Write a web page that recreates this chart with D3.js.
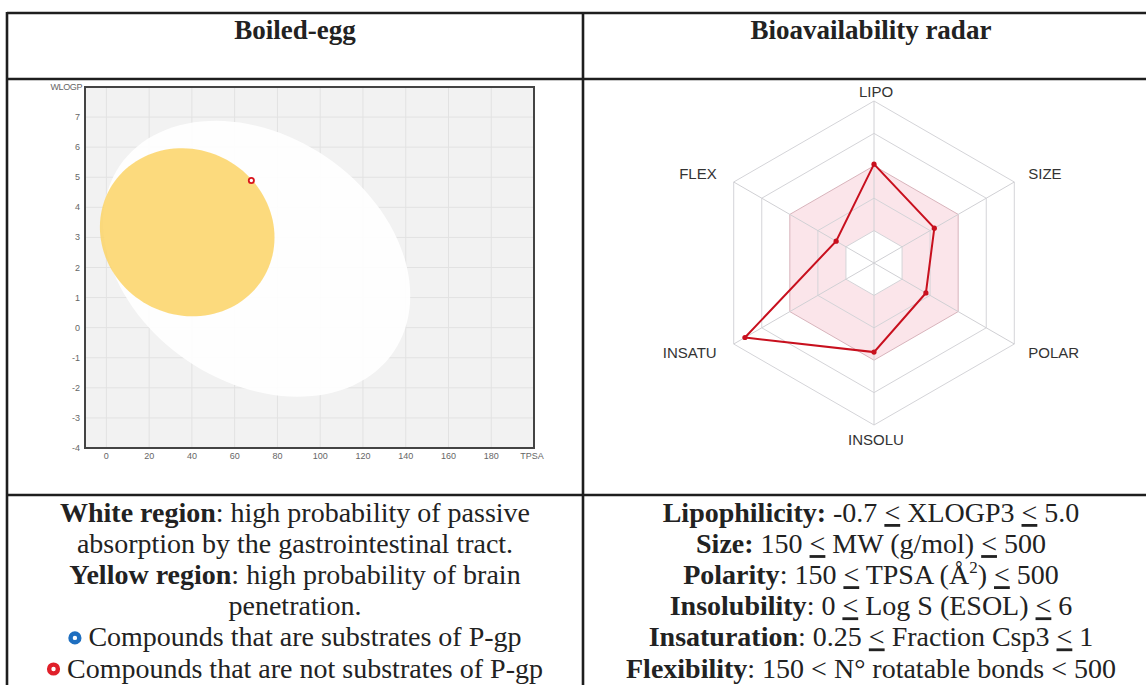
<!DOCTYPE html>
<html>
<head>
<meta charset="utf-8">
<script src="https://cdn.jsdelivr.net/npm/d3@7"></script>
<style>
  body { margin: 0; background: #fff; }
  svg { display: block; }
</style>
</head>
<body>
<div id="chart"></div>
<script>
// ---- data ----
// boiled-egg axes
const tpsaTicks = [0, 20, 40, 60, 80, 100, 120, 140, 160, 180]
const wlogpTicks = [-4, -3, -2, -1, 0, 1, 2, 3, 4, 5, 6, 7]
// ellipses in data units: centre + two conjugate semi-axis vectors (tpsa, wlogp)
const whiteCenter = [70.3, 2.29]
const whiteAxisU = [64.1, -3.09]
const whiteAxisV = [-32.4, -3.39]
const yolkCenter = [37.8, 3.17]
const yolkAxisU = [36.3, -1.43]
const yolkAxisV = [-18.7, -2.40]
// the molecule
const molTPSA = [67.8]
const molWLOGP = [4.89]
const molPgp = [false]

// bioavailability radar (normalised 0..1)
const radarAxes = ["LIPO", "SIZE", "POLAR", "INSOLU", "INSATU", "FLEX"]
const radarValues = [0.61, 0.43, 0.37, 0.55, 0.92, 0.27]
const radarRings = [0.2, 0.4, 0.6, 0.8, 1.0]
const optimalBand = [0.2, 0.6]

const width = 1146
const height = 685

const svg = d3.select("#chart")
  .append("svg")
  .attr("width", width)
  .attr("height", height)

// ---- table frame ----
const lineCol = "#1e1e1e"
const tbl = svg.append("g").attr("stroke", lineCol).attr("stroke-width", 2.6)
tbl.append("line").attr("x1", 7).attr("x2", width).attr("y1", 13).attr("y2", 13)
tbl.append("line").attr("x1", 7).attr("x2", width).attr("y1", 79).attr("y2", 79)
tbl.append("line").attr("x1", 7).attr("x2", width).attr("y1", 495).attr("y2", 495)
tbl.append("line").attr("x1", 7).attr("x2", 7).attr("y1", 12).attr("y2", height)
tbl.append("line").attr("x1", 583).attr("x2", 583).attr("y1", 12).attr("y2", height)

const leftC = 295
const rightC = 871
const serif = "'Liberation Serif', 'Times New Roman', serif"

svg.append("text").attr("x", leftC).attr("y", 39)
  .attr("text-anchor", "middle").attr("font-family", serif)
  .attr("font-weight", "bold").attr("font-size", 27).attr("fill", "#222")
  .text("Boiled-egg")
svg.append("text").attr("x", rightC).attr("y", 39)
  .attr("text-anchor", "middle").attr("font-family", serif)
  .attr("font-weight", "bold").attr("font-size", 27).attr("fill", "#222")
  .text("Bioavailability radar")

// ---- boiled egg ----
const x = d3.scaleLinear().domain([-10, 200]).range([85, 534])
const y = d3.scaleLinear().domain([-4, 8]).range([448, 87])

const egg = svg.append("g")
egg.append("rect")
  .attr("x", x(-10)).attr("y", y(8))
  .attr("width", x(200) - x(-10)).attr("height", y(-4) - y(8))
  .attr("fill", "#f2f2f2")

egg.selectAll(".vgrid").data(tpsaTicks).join("line")
  .attr("x1", d => x(d)).attr("x2", d => x(d))
  .attr("y1", y(8)).attr("y2", y(-4))
  .attr("stroke", "#e2e2e2").attr("stroke-width", 1)
egg.selectAll(".hgrid").data(wlogpTicks).join("line")
  .attr("x1", x(-10)).attr("x2", x(200))
  .attr("y1", d => y(d)).attr("y2", d => y(d))
  .attr("stroke", "#e2e2e2").attr("stroke-width", 1)

function ellipsePoints(c, u, v) {
  return d3.range(0, 361, 3).map(a => {
    const t = a * Math.PI / 180
    return [c[0] + u[0] * Math.cos(t) + v[0] * Math.sin(t),
            c[1] + u[1] * Math.cos(t) + v[1] * Math.sin(t)]
  })
}
const eggLine = d3.line().x(d => x(d[0])).y(d => y(d[1])).curve(d3.curveLinearClosed)

egg.append("path")
  .attr("d", eggLine(ellipsePoints(whiteCenter, whiteAxisU, whiteAxisV)))
  .attr("fill", "#ffffff").attr("fill-opacity", 0.9)
egg.append("path")
  .attr("d", eggLine(ellipsePoints(yolkCenter, yolkAxisU, yolkAxisV)))
  .attr("fill", "#fbd466").attr("fill-opacity", 0.85)

egg.append("rect")
  .attr("x", x(-10)).attr("y", y(8))
  .attr("width", x(200) - x(-10)).attr("height", y(-4) - y(8))
  .attr("fill", "none").attr("stroke", "#444").attr("stroke-width", 2)

egg.selectAll(".mol").data(molTPSA).join("circle")
  .attr("cx", d => x(d))
  .attr("cy", (d, i) => y(molWLOGP[i]))
  .attr("r", 2.6)
  .attr("fill", "#fff")
  .attr("stroke", (d, i) => molPgp[i] ? "#1f6fc0" : "#d9141c")
  .attr("stroke-width", 1.8)

const sans = "'Liberation Sans', Arial, sans-serif"
egg.selectAll(".ylab").data(wlogpTicks).join("text")
  .attr("x", x(-10) - 5).attr("y", d => y(d) + 3)
  .attr("text-anchor", "end").attr("font-family", sans)
  .attr("font-size", 9).attr("fill", "#666")
  .text(d => d)
egg.selectAll(".xlab").data(tpsaTicks).join("text")
  .attr("x", d => x(d)).attr("y", y(-4) + 11)
  .attr("text-anchor", "middle").attr("font-family", sans)
  .attr("font-size", 9).attr("fill", "#666")
  .text(d => d)
egg.append("text").attr("x", x(-10) - 3).attr("y", y(8) + 3)
  .attr("text-anchor", "end").attr("font-family", sans)
  .attr("font-size", 9).attr("fill", "#666").attr("letter-spacing", -0.4)
  .text("WLOGP")
egg.append("text").attr("x", x(200) - 2).attr("y", y(-4) + 11)
  .attr("text-anchor", "middle").attr("font-family", sans)
  .attr("font-size", 9).attr("fill", "#666")
  .text("TPSA")

// ---- radar ----
const rcx = 874, rcy = 263
const r = d3.scaleLinear().domain([0, 1]).range([0, 162])
const angle = d3.scalePoint().domain(radarAxes).range([0, 2 * Math.PI * 5 / 6])
const px = (name, v) => rcx + r(v) * Math.sin(angle(name))
const py = (name, v) => rcy - r(v) * Math.cos(angle(name))
const hexLine = d3.line().curve(d3.curveLinearClosed)
const hex = v => hexLine(radarAxes.map(a => [px(a, v), py(a, v)]))

const radar = svg.append("g")
radar.append("path")
  .attr("d", hex(optimalBand[1]) + hex(optimalBand[0]))
  .attr("fill", "#f6c6d0").attr("fill-opacity", 0.45)
  .attr("fill-rule", "evenodd")
radar.selectAll(".ring").data(radarRings).join("path")
  .attr("d", d => hex(d))
  .attr("fill", "none")
  .attr("stroke", d => d === optimalBand[1] ? "#d8b4bc" : "#d4d4d8")
  .attr("stroke-width", 1)
radar.selectAll(".spoke").data(radarAxes).join("line")
  .attr("x1", rcx).attr("y1", rcy)
  .attr("x2", d => px(d, 1)).attr("y2", d => py(d, 1))
  .attr("stroke", "#d0d0d4").attr("stroke-width", 1)

radar.append("path")
  .attr("d", hexLine(radarAxes.map((a, i) => [px(a, radarValues[i]), py(a, radarValues[i])])))
  .attr("fill", "none").attr("stroke", "#c8101e").attr("stroke-width", 2)
radar.selectAll(".pt").data(radarAxes).join("circle")
  .attr("cx", (d, i) => px(d, radarValues[i]))
  .attr("cy", (d, i) => py(d, radarValues[i]))
  .attr("r", 2.6).attr("fill", "#c8101e")

radar.selectAll(".rlab").data(radarAxes).join("text")
  .attr("x", d => {
    const s = Math.sin(angle(d))
    if (Math.abs(s) < 0.1) return rcx + 2
    return px(d, 1) + (s > 0 ? 14 : -17)
  })
  .attr("y", d => {
    const c = Math.cos(angle(d))
    const nudge = (c > 0.1 && c < 0.9) ? -3 : 2
    return rcy + nudge - (r(1) + 12) * c
  })
  .attr("dominant-baseline", "central")
  .attr("text-anchor", d => {
    const s = Math.sin(angle(d))
    return Math.abs(s) < 0.1 ? "middle" : (s > 0 ? "start" : "end")
  })
  .attr("font-family", sans).attr("font-size", 15).attr("fill", "#333")
  .text(d => d)

// ---- descriptive text ----
// "le" parts are drawn as "<" with an underline, like the source document
function richLine(cx, yb, parts, ring) {
  const t = svg.append("text").attr("y", yb)
    .attr("font-family", serif).attr("font-size", 28).attr("fill", "#222")
  parts.forEach(p => {
    const s = t.append("tspan").text(p.t)
    if (p.b) s.attr("font-weight", "bold")
    if (p.le) s.attr("text-decoration", "underline")
    if (p.sup) s.attr("font-size", 17).attr("dy", -11)
    if (p.down) s.attr("dy", 11)
  })
  const w = t.node().getComputedTextLength()
  const ringW = ring ? 20 : 0
  const x0 = cx - (w + ringW) / 2
  t.attr("x", x0 + ringW)
  if (ring) {
    svg.append("circle").attr("cx", x0 + 6.5).attr("cy", yb - 8.5)
      .attr("r", 4.4).attr("fill", "#fff")
      .attr("stroke", ring).attr("stroke-width", 4.4)
  }
}
const LE = {t: "<", le: true}

const lh = 31.1
const y0 = 522
richLine(leftC, y0, [{t: "White region", b: true}, {t: ": high probability of passive"}])
richLine(leftC, y0 + lh, [{t: "absorption by the gastrointestinal tract."}])
richLine(leftC, y0 + 2 * lh, [{t: "Yellow region", b: true}, {t: ": high probability of brain"}])
richLine(leftC, y0 + 3 * lh, [{t: "penetration."}])
richLine(leftC, y0 + 4 * lh, [{t: "Compounds that are substrates of P-gp"}], "#1f6fc0")
richLine(leftC, y0 + 5 * lh, [{t: "Compounds that are not substrates of P-gp"}], "#e0202a")

richLine(rightC, y0, [{t: "Lipophilicity:", b: true}, {t: " -0.7 "}, LE, {t: " XLOGP3 "}, LE, {t: " 5.0"}])
richLine(rightC, y0 + lh, [{t: "Size:", b: true}, {t: " 150 "}, LE, {t: " MW (g/mol) "}, LE, {t: " 500"}])
richLine(rightC, y0 + 2 * lh, [{t: "Polarity", b: true}, {t: ": 150 "}, LE, {t: " TPSA (\u00C5"}, {t: "2", sup: true}, {t: ") ", down: true}, LE, {t: " 500"}])
richLine(rightC, y0 + 3 * lh, [{t: "Insolubility", b: true}, {t: ": 0 "}, LE, {t: " Log S (ESOL) "}, LE, {t: " 6"}])
richLine(rightC, y0 + 4 * lh, [{t: "Insaturation", b: true}, {t: ": 0.25 "}, LE, {t: " Fraction Csp3 "}, LE, {t: " 1"}])
richLine(rightC, y0 + 5 * lh, [{t: "Flexibility", b: true}, {t: ": 150 < N\u00B0 rotatable bonds < 500"}])
</script>
</body>
</html>
